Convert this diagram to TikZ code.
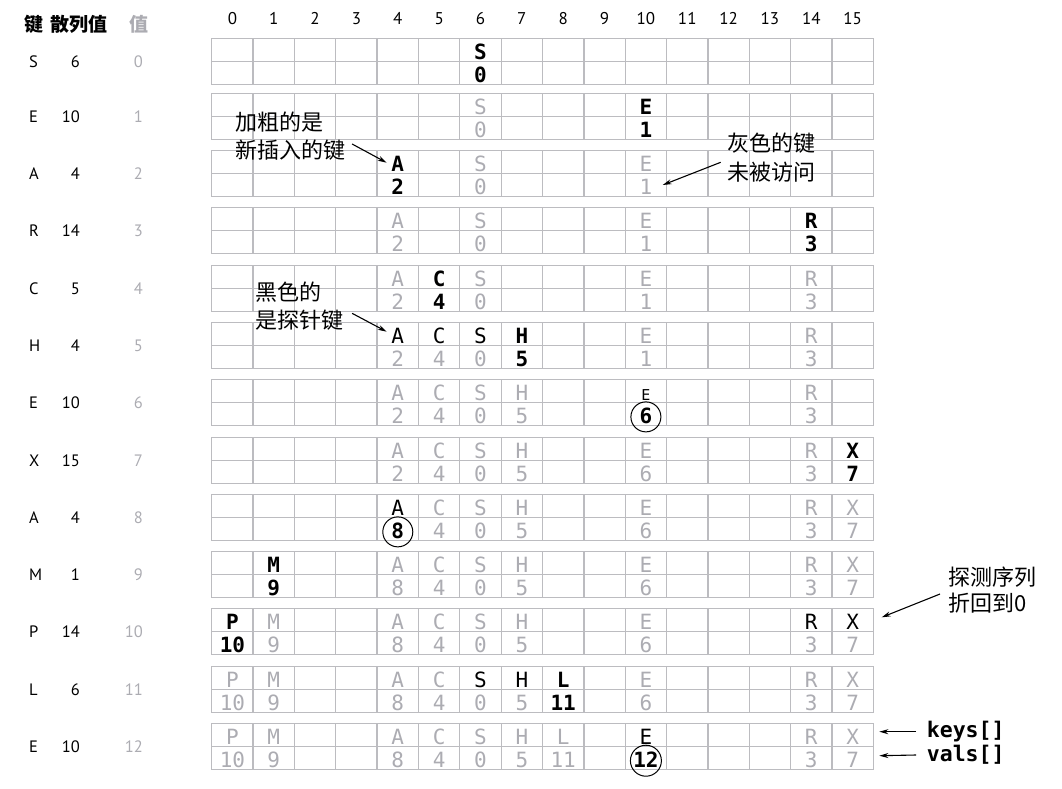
\documentclass[tikz,border=0pt]{standalone}
\usepackage{fontspec}
\setmainfont{PT Sans}
\newfontfamily\monof{DejaVu Sans Mono}
\newfontfamily\cjkf{Noto Sans CJK SC}
\usetikzlibrary{arrows.meta}
\definecolor{gridc}{RGB}{188,188,192}
\definecolor{greyt}{RGB}{172,172,178}
\newcommand\rowtop[1]{\pgfmathsetmacro\ty{{38.5,93.5,150.5,207.5,265.5,322.5,379.5,437.5,494.5,551.5,608.5,666.5,723.5}[#1]}}
% row col key val keystyle valstyle
\newcommand\kvcell[6]{%
  \rowtop{#1}%
  \pgfmathsetmacro\cx{232.4+41.35*#2}%
  \node[#5] (k-#1-#2) at (\cx,\ty+20.7) {#3};
  \node[#6] (v-#1-#2) at (\cx,\ty+44) {#4};
}
\newcommand\gcell[4]{\kvcell{#1}{#2}{#3}{#4}{kg}{vg}}
\begin{document}
\begin{tikzpicture}[x=1pt,y=-1pt,
  gridline/.style={draw=gridc,line width=1.3pt},
  cellbase/.style={anchor=base,inner sep=0pt,font=\monof\fontsize{21}{24}\selectfont},
  kg/.style={cellbase,text=greyt},
  vg/.style={cellbase,text=greyt},
  kb/.style={cellbase,font=\monof\bfseries\fontsize{21}{24}\selectfont},
  vb/.style={kb},
  kn/.style={cellbase,text=black},
  ks/.style={cellbase,text=black,font=\monof\fontsize{15}{18}\selectfont},
  vc/.style={kb},
  hdr/.style={anchor=base,inner sep=0pt,font=\fontsize{17}{19}\selectfont},
  lbl/.style={inner sep=0pt,font=\fontsize{16.5}{19}\selectfont},
  hcjk/.style={anchor=base,inner sep=0pt,font=\cjkf\bfseries\fontsize{19}{22}\selectfont},
  note/.style={anchor=west,inner sep=0pt,font=\cjkf\fontsize{22}{28}\selectfont},
  codelbl/.style={anchor=west,inner sep=0pt,font=\monof\bfseries\fontsize{21.5}{26}\selectfont},
  arr/.style={line width=1.1pt,-{Stealth[length=9pt,width=5pt]}},
  ring/.style={line width=1pt,draw=black}
]
\useasboundingbox (0,0) rectangle (1062,789);

% header
\node[hcjk] (hk) at (34,31.5) {键};
\node[hcjk] (hh) at (79,31.5) {散列值};
\node[hcjk,text=greyt] (hv) at (139,31.5) {值};
\foreach \c in {0,...,15} \node[hdr] (h\c) at (232.4+41.35*\c,25) {\c};

% grid
\foreach \r in {0,...,12} {
  \rowtop{\r}
  \draw[gridline] (211.7,\ty) rectangle (873.3,\ty+46);
  \draw[gridline] (211.7,\ty+23) -- (873.3,\ty+23);
  \foreach \k in {1,...,15} \draw[gridline] (211.7+41.35*\k,\ty) -- (211.7+41.35*\k,\ty+46);
}

% left labels
\foreach \r/\k/\h in {0/S/6,1/E/10,2/A/4,3/R/14,4/C/5,5/H/4,6/E/10,7/X/15,8/A/4,9/M/1,10/P/14,11/L/6,12/E/10} {
  \rowtop{\r}
  \node[lbl,anchor=base west] (lk\r) at (29,\ty+28.8) {\k};
  \node[lbl,anchor=base east] (lh\r) at (80,\ty+28.8) {\h};
  \node[lbl,anchor=base east,text=greyt] (lv\r) at (143,\ty+28.8) {\r};
}

% row 0
\kvcell{0}{6}{S}{0}{kb}{vb}
% row 1
\gcell{1}{6}{S}{0}
\kvcell{1}{10}{E}{1}{kb}{vb}
% row 2
\kvcell{2}{4}{A}{2}{kb}{vb}
\gcell{2}{6}{S}{0}
\gcell{2}{10}{E}{1}
% row 3
\gcell{3}{4}{A}{2}
\gcell{3}{6}{S}{0}
\gcell{3}{10}{E}{1}
\kvcell{3}{14}{R}{3}{kb}{vb}
% row 4
\gcell{4}{4}{A}{2}
\kvcell{4}{5}{C}{4}{kb}{vb}
\gcell{4}{6}{S}{0}
\gcell{4}{10}{E}{1}
\gcell{4}{14}{R}{3}
% row 5
\kvcell{5}{4}{A}{2}{kn}{vg}
\kvcell{5}{5}{C}{4}{kn}{vg}
\kvcell{5}{6}{S}{0}{kn}{vg}
\kvcell{5}{7}{H}{5}{kb}{vb}
\gcell{5}{10}{E}{1}
\gcell{5}{14}{R}{3}
% row 6
\gcell{6}{4}{A}{2}
\gcell{6}{5}{C}{4}
\gcell{6}{6}{S}{0}
\gcell{6}{7}{H}{5}
\kvcell{6}{10}{E}{6}{ks}{vc}
\gcell{6}{14}{R}{3}
% row 7
\gcell{7}{4}{A}{2}
\gcell{7}{5}{C}{4}
\gcell{7}{6}{S}{0}
\gcell{7}{7}{H}{5}
\gcell{7}{10}{E}{6}
\gcell{7}{14}{R}{3}
\kvcell{7}{15}{X}{7}{kb}{vb}
% row 8
\kvcell{8}{4}{A}{8}{kn}{vc}
\gcell{8}{5}{C}{4}
\gcell{8}{6}{S}{0}
\gcell{8}{7}{H}{5}
\gcell{8}{10}{E}{6}
\gcell{8}{14}{R}{3}
\gcell{8}{15}{X}{7}
% row 9
\kvcell{9}{1}{M}{9}{kb}{vb}
\gcell{9}{4}{A}{8}
\gcell{9}{5}{C}{4}
\gcell{9}{6}{S}{0}
\gcell{9}{7}{H}{5}
\gcell{9}{10}{E}{6}
\gcell{9}{14}{R}{3}
\gcell{9}{15}{X}{7}
% row 10
\kvcell{10}{0}{P}{10}{kb}{vb}
\gcell{10}{1}{M}{9}
\gcell{10}{4}{A}{8}
\gcell{10}{5}{C}{4}
\gcell{10}{6}{S}{0}
\gcell{10}{7}{H}{5}
\gcell{10}{10}{E}{6}
\kvcell{10}{14}{R}{3}{kn}{vg}
\kvcell{10}{15}{X}{7}{kn}{vg}
% row 11
\gcell{11}{0}{P}{10}
\gcell{11}{1}{M}{9}
\gcell{11}{4}{A}{8}
\gcell{11}{5}{C}{4}
\kvcell{11}{6}{S}{0}{kn}{vg}
\kvcell{11}{7}{H}{5}{kn}{vg}
\kvcell{11}{8}{L}{11}{kb}{vb}
\gcell{11}{10}{E}{6}
\gcell{11}{14}{R}{3}
\gcell{11}{15}{X}{7}
% row 12
\gcell{12}{0}{P}{10}
\gcell{12}{1}{M}{9}
\gcell{12}{4}{A}{8}
\gcell{12}{5}{C}{4}
\gcell{12}{6}{S}{0}
\gcell{12}{7}{H}{5}
\gcell{12}{8}{L}{11}
\kvcell{12}{10}{E}{12}{kn}{vc}
\gcell{12}{14}{R}{3}
\gcell{12}{15}{X}{7}

% rings around updated values
\draw[ring] ([yshift=-1pt]v-6-10.center) circle[radius=15];
\draw[ring] ([yshift=-1pt]v-8-4.center) circle[radius=15];
\draw[ring] ([yshift=-1pt]v-12-10.center) circle[radius=15.5];

% annotations
\node[note] (n1a) at (235,122) {加粗的是};
\node[note] (n1b) at (235,150) {新插入的键};
\node[note] (n2a) at (727.7,143) {灰色的键};
\node[note] (n2b) at (727.7,171.7) {未被访问};
\node[note] (n3a) at (255,291.7) {黑色的};
\node[note] (n3b) at (255,320) {是探针键};
\node[note] (n4a) at (948.3,577.5) {探测序列};
\node[note] (n4b) at (948.3,603.3) {折回到0};
\node[codelbl] (keys) at (926.7,731.7) {keys[]};
\node[codelbl] (vals) at (926.7,755) {vals[]};

\coordinate (t1) at (386.7,162.7);
\coordinate (t2) at (662.7,185);
\coordinate (t3) at (386.7,331.7);
\coordinate (t4) at (881.7,617.3);
\coordinate (t5) at (879.3,731.7);
\coordinate (t6) at (879.3,755.7);

\draw[arr] ([xshift=6.7pt,yshift=6pt]n1b.east) -- (t1);
\draw[arr] ([xshift=-7pt,yshift=9.4pt]n2b.west) -- (t2);
\draw[arr] ([xshift=8.7pt,yshift=6.7pt]n3b.east) -- (t3);
\draw[arr] ([xshift=-8.3pt,yshift=9.3pt]n4b.west) -- (t4);
\draw[arr] ([xshift=-10.7pt]keys.west) -- (t5);
\draw[arr] ([xshift=-10.7pt]vals.west) -- (t6);
\end{tikzpicture}
\end{document}
